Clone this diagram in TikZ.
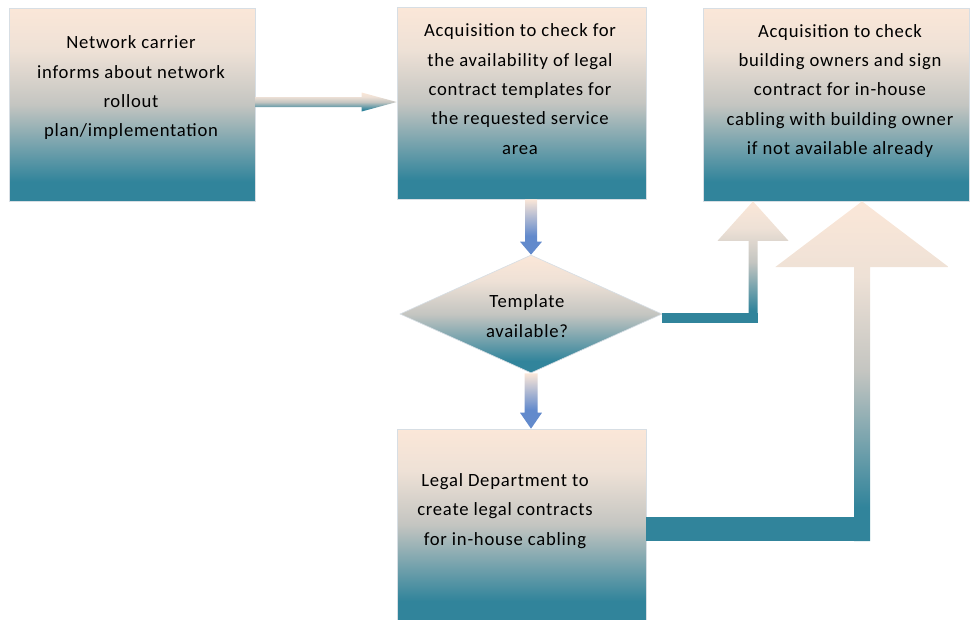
\documentclass[tikz,border=0pt]{standalone}
\usepackage{fontspec}
\setmainfont{Carlito}[LetterSpace=4]
\usetikzlibrary{shapes.geometric,calc}
\definecolor{peach}{RGB}{251,231,216}
\definecolor{peachtwo}{RGB}{238,225,214}
\definecolor{midg}{RGB}{196,197,193}
\definecolor{tealc}{RGB}{49,132,155}
\definecolor{arrblue}{RGB}{98,138,204}
\definecolor{edgec}{RGB}{215,222,228}
\pgfdeclareverticalshading{boxshade}{100bp}{color(0bp)=(tealc); color(25bp)=(tealc); color(30bp)=(tealc); color(50bp)=(midg); color(64bp)=(peachtwo); color(75bp)=(peach); color(100bp)=(peach)}
\pgfdeclareverticalshading{downshade}{100bp}{color(0bp)=(arrblue); color(25bp)=(arrblue); color(42bp)=(arrblue); color(75bp)=(peach); color(100bp)=(peach)}
\begin{document}
\begin{tikzpicture}[x=0.75pt,y=-0.75pt,
  box/.style={rectangle, shading=boxshade, draw=edgec, line width=0.5pt, inner sep=0pt},
  dia/.style={diamond, shading=boxshade, draw=edgec, line width=0.5pt, inner sep=0pt, aspect=2.2},
  txt/.style={align=center, inner sep=0pt, text=black, font=\fontsize{14pt}{22pt}\selectfont},
  fatarrow/.style={shading=boxshade},
  downarrow/.style={shading=downshade},
  bar/.style={fill=tealc}]
\useasboundingbox (0,0) rectangle (970,619);
% boxes
\node[box, minimum width=184.5pt, minimum height=144.75pt] (b1) at (132,104.5) {};
\node[box, minimum width=186.75pt, minimum height=144pt] (b2) at (521.5,103) {};
\node[box, minimum width=199.5pt, minimum height=144.75pt] (b3) at (836,104.5) {};
\node[dia, minimum width=196.5pt, minimum height=88.5pt] (d) at (531,314) {};
\node[box, minimum width=186.75pt, minimum height=143.25pt] (b4) at (521.5,524.5) {};
% texts
\node[txt] (t1) at (131,88) {Network carrier\\informs about network\\rollout\\plan/implementation};
\node[txt] (t2) at (520,89) {Acquisition to check for\\the availability of legal\\contract templates for\\the requested service\\area};
\node[txt] (t3) at (840,91) {Acquisition to check\\building owners and sign\\contract for in-house\\cabling with building owner\\if not available already};
\node[txt] (td) at (527,316) {Template\\available?};
\node[txt] (t4) at (505,511) {Legal Department to\\create legal contracts\\for in-house cabling};
% arrow b1 -> b2
\coordinate (a1s) at ($(b1.east)+(0,-2.5)$);
\coordinate (a1e) at ($(b2.west)+(0,-1)$);
\path[fatarrow] ($(a1s)+(0,-5)$) -- ($(a1e)+(-35,-5)$) -- ($(a1e)+(-35,-9.5)$) -- (a1e)
  -- ($(a1e)+(-35,9.5)$) -- ($(a1e)+(-35,5)$) -- ($(a1s)+(0,5)$) -- cycle;
% arrow b2 -> d
\coordinate (a2s) at (b2.south -| d.north);
\path[downarrow] ($(a2s)+(-6,0)$) -- ($(d.north)+(-6,-13)$) -- ($(d.north)+(-11,-13)$) -- (d.north)
  -- ($(d.north)+(11,-13)$) -- ($(d.north)+(6,-13)$) -- ($(a2s)+(6,0)$) -- cycle;
% arrow d -> b4
\coordinate (a3e) at (d.south |- b4.north);
\path[downarrow] ($(d.south)+(-6.5,0)$) -- ($(a3e)+(-6.5,-16)$) -- ($(a3e)+(-11,-16)$) -- (a3e)
  -- ($(a3e)+(11,-16)$) -- ($(a3e)+(6.5,-16)$) -- ($(d.south)+(6.5,0)$) -- cycle;
% elbow arrow d -> b3
\coordinate (a4s) at ($(d.east)+(0,3.7)$);
\coordinate (a4e) at ($(b3.south)+(-83,0)$);
\path[fatarrow] ($(a4s -| a4e)+(-4.5,5)$) -- ($(a4e)+(-4.5,39.5)$) -- ($(a4e)+(-35.5,39.5)$) -- (a4e)
  -- ($(a4e)+(35.5,39.5)$) -- ($(a4e)+(4.5,39.5)$) -- ($(a4s -| a4e)+(4.5,5)$) -- cycle;
\path[bar] ($(a4s)+(0,-5)$) rectangle ($(a4s -| a4e)+(4.5,5)$);
% elbow arrow b4 -> b3
\coordinate (a5s) at ($(b4.east)+(0,4.7)$);
\coordinate (a5e) at ($(b3.south)+(26,0)$);
\path[fatarrow] ($(a5s -| a5e)+(-8,11.85)$) -- ($(a5e)+(-8,65.7)$) -- ($(a5e)+(-86.7,65.7)$) -- (a5e)
  -- ($(a5e)+(86.7,65.7)$) -- ($(a5e)+(8,65.7)$) -- ($(a5s -| a5e)+(8,11.85)$) -- cycle;
\path[bar] ($(a5s)+(0,-11.85)$) rectangle ($(a5s -| a5e)+(8,11.85)$);
\end{tikzpicture}
\end{document}
